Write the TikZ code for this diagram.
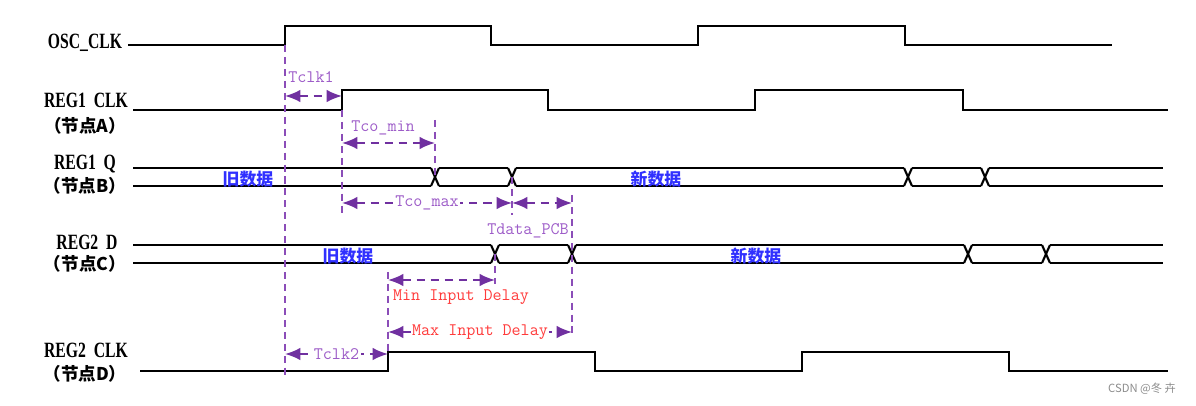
\documentclass[tikz,border=0pt]{standalone}
\usepackage{fontspec}
\usetikzlibrary{arrows.meta}
\newfontfamily\sigfont[FakeStretch=0.72]{Liberation Serif}
\newfontfamily\cjkfont{Noto Sans CJK SC}
\definecolor{dimpurple}{HTML}{7030A0}
\definecolor{linepurple}{HTML}{8B4DB8}
\definecolor{txtpurple}{HTML}{9D5CC8}
\definecolor{txtred}{HTML}{FF3B3B}
\definecolor{txtblue}{HTML}{3030FF}
\tikzset{
  sig/.style={line width=1.5pt,black,line join=miter},
  mark line/.style={linepurple,line width=0.75pt,dash pattern=on 5pt off 3.5pt},
  dim/.style={dimpurple,line width=1.3pt,dash pattern=on 6pt off 4pt,
    {Latex[length=11pt,width=9pt]}-{Latex[length=11pt,width=9pt]}},
  signame/.style={font=\sigfont\bfseries\fontsize{15.5}{16}\selectfont,inner sep=0pt},
  nodename/.style={font=\cjkfont\bfseries\fontsize{12.5}{13}\selectfont,inner sep=0pt},
  dimlabel/.style={font=\ttfamily\fontsize{12.5}{12.5}\selectfont,text=txtpurple,inner sep=1pt},
  delaylabel/.style={dimlabel,text=txtred},
  datalabel/.style={font=\cjkfont\bfseries\fontsize{12}{12}\selectfont,text=txtblue,inner sep=0pt}
}
\begin{document}
\begin{tikzpicture}[x=0.025cm,y=-0.025cm]
\useasboundingbox (0,0) rectangle (1196,406);
% signal names
\node[signame] (osc) at (85,43) {OSC\_CLK};
\node[signame] (reg1clk) at (86,100) {REG1\ \ CLK};
\node[nodename] (nodeA) at (85,126) {（节点A）};
\node[signame] (reg1q) at (85,164) {REG1\ \ Q};
\node[nodename] (nodeB) at (85,186) {（节点B）};
\node[signame] (reg2d) at (87,242) {REG2\ \ D};
\node[nodename] (nodeC) at (85,264) {（节点C）};
\node[signame] (reg2clk) at (86,350) {REG2\ \ CLK};
\node[nodename] (nodeD) at (85,374) {（节点D）};
% clocks
\draw[sig] (128,45) -- (285,45) -- (285,26) -- (491,26) -- (491,45) -- (698,45)
  -- (698,26) -- (905,26) -- (905,45) -- (1112,45);
\draw[sig] (133,110) -- (342,110) -- (342,90) -- (548,90) -- (548,110) -- (755,110)
  -- (755,90) -- (963,90) -- (963,110) -- (1168,110);
\draw[sig] (140,371) -- (388,371) -- (388,352) -- (595,352) -- (595,371) -- (802,371)
  -- (802,352) -- (1009,352) -- (1009,371) -- (1168,371);
% data buses
\foreach\a/\b in {129/435,435/512,512/908,908/985,985/1167} {
  \draw[sig] (\a+4,168) -- (\b-4,168);
  \draw[sig] (\a+4,186) -- (\b-4,186);
}
\foreach\c in {435,512,908,985} {
  \draw[sig] (\c-4,168) -- (\c+4,186);
  \draw[sig] (\c-4,186) -- (\c+4,168);
}
\foreach\a/\b in {129/495,495/572,572/968,968/1046,1046/1167} {
  \draw[sig] (\a+4,245) -- (\b-4,245);
  \draw[sig] (\a+4,263) -- (\b-4,263);
}
\foreach\c in {495,572,968,1046} {
  \draw[sig] (\c-4,245) -- (\c+4,263);
  \draw[sig] (\c-4,263) -- (\c+4,245);
}
\node[datalabel] (oldB) at (248,179) {旧数据};
\node[datalabel] (newB) at (656,179) {新数据};
\node[datalabel] (oldC) at (348,256) {旧数据};
\node[datalabel] (newC) at (756,256) {新数据};
% marker lines
\draw[mark line] (285,45) -- (285,378);
\draw[mark line] (342,110) -- (342,213);
\draw[mark line] (435,120) -- (435,177);
\draw[mark line] (512,177) -- (512,215);
\draw[mark line] (572,195) -- (572,333);
\draw[mark line] (495,254) -- (495,284);
\draw[mark line] (388,272) -- (388,352);
% timing arrows
\coordinate (tclkA) at (285,96);
\coordinate (tclkB) at (342,96);
\coordinate (tminA) at (342,143);
\coordinate (tminB) at (435,143);
\coordinate (tmaxA) at (342,203);
\coordinate (tmaxB) at (512,203);
\coordinate (pcbB) at (572,203);
\coordinate (dminA) at (388,280);
\coordinate (dminB) at (495,280);
\coordinate (dmaxA) at (388,332);
\coordinate (dmaxB) at (572,332);
\coordinate (clk2A) at (285,354);
\coordinate (clk2B) at (388,354);
\draw[dim] (tclkA) -- (tclkB);
\node[dimlabel] (tclk1) at (311,77) {Tclk1};
\draw[dim] (tminA) -- (tminB);
\node[dimlabel] (tcomin) at (383,128) {Tco\_min};
\draw[dim] (tmaxA) -- node[dimlabel,fill=white] (tcomax) {Tco\_max} (tmaxB);
\draw[dim] (tmaxB) -- (pcbB);
\node[dimlabel] (tpcb) at (528,231) {Tdata\_PCB};
\draw[dim] (dminA) -- (dminB);
\node[delaylabel] (mindelay) at (461,297) {Min Input Delay};
\draw[dim] (dmaxA) -- node[delaylabel,fill=white] (maxdelay) {Max Input Delay} (dmaxB);
\draw[dim] (clk2A) -- node[dimlabel,fill=white] (tclk2) {Tclk2} (clk2B);
% watermark
\node[font=\cjkfont\fontsize{8}{8}\selectfont,text=black!45,inner sep=0pt] (mark) at (1142,389) {CSDN @冬 卉};
\end{tikzpicture}
\end{document}
